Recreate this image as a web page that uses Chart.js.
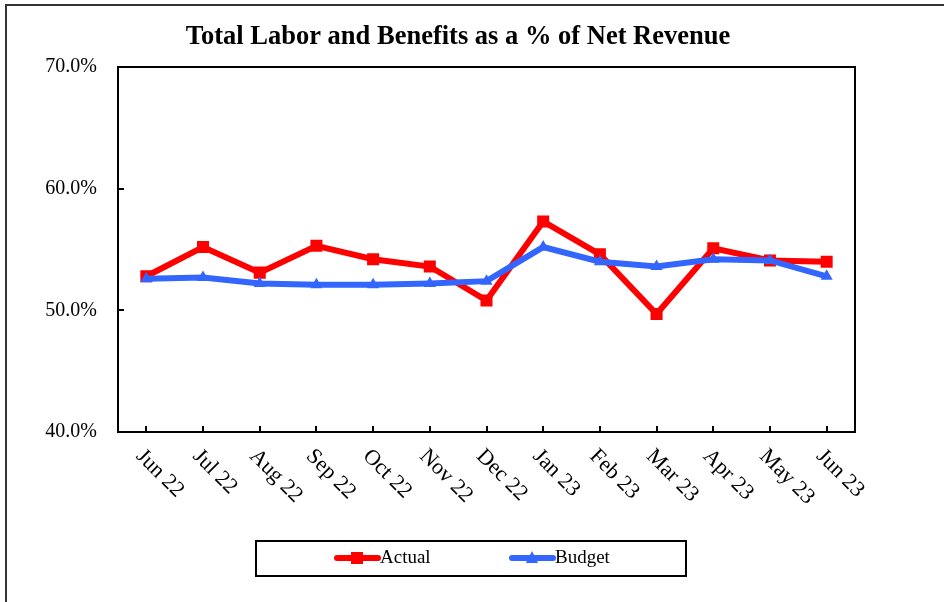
<!DOCTYPE html>
<html>
<head>
<meta charset="utf-8">
<title>Total Labor and Benefits</title>
<script src="https://cdn.jsdelivr.net/npm/chart.js@4.4.0/dist/chart.umd.min.js"></script>
<style>
  html, body { margin: 0; padding: 0; background: #fff; }
  #wrap { width: 944px; height: 602px; }
</style>
</head>
<body>
<div id="wrap"><canvas id="laborChart" width="944" height="602"></canvas></div>
<script>
// monthly labor + benefits as % of net revenue
const months = ["Jun 22", "Jul 22", "Aug 22", "Sep 22", "Oct 22", "Nov 22", "Dec 22",
                "Jan 23", "Feb 23", "Mar 23", "Apr 23", "May 23", "Jun 23"];
const actual = [52.8, 55.2, 53.1, 55.3, 54.2, 53.6, 50.8, 57.3, 54.6, 49.7, 55.1, 54.1, 54.0];
const budget = [52.6, 52.7, 52.2, 52.1, 52.1, 52.2, 52.4, 55.2, 54.0, 53.6, 54.2, 54.1, 52.8];
const yTicks = [40, 50, 60, 70];

const titleText = "Total Labor and Benefits as a % of Net Revenue";
const FONT = "'Liberation Serif', 'Times New Roman', serif";
const RED = "#ff0000";
const BLUE = "#3366ff";

// frame, plot box, inside ticks, slanted month labels, title and legend
const decorations = {
  id: "decorations",
  beforeDraw(chart) {
    const c = chart.ctx;
    c.save();
    c.fillStyle = "#fff";
    c.fillRect(0, 0, chart.width, chart.height);
    c.strokeStyle = "#333";
    c.lineWidth = 2;
    c.strokeRect(6, 5, chart.width + 20, chart.height + 20);
    c.restore();
  },
  afterDraw(chart) {
    const c = chart.ctx;
    const a = chart.chartArea;
    const x = chart.scales.x;
    const y = chart.scales.y;
    c.save();
    c.strokeStyle = "#000";
    c.lineWidth = 2;
    c.strokeRect(a.left, a.top, a.right - a.left, a.bottom - a.top);

    c.beginPath();
    yTicks.forEach(v => {
      const py = Math.round(y.getPixelForValue(v));
      c.moveTo(a.left, py);
      c.lineTo(a.left + 6, py);
    });
    months.forEach((m, i) => {
      const px = Math.round(x.getPixelForValue(i));
      c.moveTo(px, a.bottom);
      c.lineTo(px, a.bottom - 6);
    });
    c.stroke();

    c.fillStyle = "#000";
    c.font = "22px " + FONT;
    c.textAlign = "left";
    c.textBaseline = "middle";
    months.forEach((m, i) => {
      const px = x.getPixelForValue(i);
      c.save();
      c.translate(px - 7, a.bottom + 21);
      c.rotate(Math.PI / 4);
      c.fillText(m, 0, 0);
      c.restore();
    });

    c.font = "bold 26.5px " + FONT;
    c.textAlign = "center";
    c.textBaseline = "alphabetic";
    c.fillText(titleText, 458, 44);

    // legend box
    c.lineWidth = 2;
    c.strokeRect(256, 541, 430, 35);
    const items = [
      { label: "Actual", color: RED, x0: 337, style: "rect" },
      { label: "Budget", color: BLUE, x0: 512, style: "triangle" }
    ];
    items.forEach(it => {
      const ly = 558;
      c.strokeStyle = it.color;
      c.lineWidth = 6;
      c.lineCap = "round";
      c.beginPath();
      c.moveTo(it.x0, ly);
      c.lineTo(it.x0 + 41, ly);
      c.stroke();
      c.fillStyle = it.color;
      const mx = it.x0 + 20;
      if (it.style === "rect") {
        c.fillRect(mx - 6, ly - 6, 12, 12);
      } else {
        c.beginPath();
        c.moveTo(mx, ly - 7);
        c.lineTo(mx + 6, ly + 5);
        c.lineTo(mx - 6, ly + 5);
        c.closePath();
        c.fill();
      }
      c.fillStyle = "#000";
      c.font = "19px " + FONT;
      c.textAlign = "left";
      c.textBaseline = "middle";
      c.fillText(it.label, it.x0 + 43, ly);
    });
    c.restore();
  }
};

new Chart(document.getElementById("laborChart"), {
  type: "line",
  data: {
    labels: months,
    datasets: [
      {
        label: "Budget",
        data: budget,
        borderColor: BLUE,
        backgroundColor: BLUE,
        borderWidth: 6,
        pointStyle: "triangle",
        pointRadius: 7,
        pointBorderWidth: 0,
        tension: 0,
        order: 0
      },
      {
        label: "Actual",
        data: actual,
        borderColor: RED,
        backgroundColor: RED,
        borderWidth: 6,
        pointStyle: "rect",
        pointRadius: 8.5,
        pointBorderWidth: 0,
        tension: 0,
        order: 1
      }
    ]
  },
  options: {
    responsive: false,
    animation: false,
    layout: { padding: { left: 0, top: 67, right: 89, bottom: 170 } },
    plugins: {
      legend: { display: false },
      title: { display: false },
      tooltip: { enabled: false }
    },
    scales: {
      x: {
        offset: true,
        grid: { display: false, drawTicks: false },
        border: { display: false },
        ticks: { display: false },
        afterFit: s => { s.height = 0; }
      },
      y: {
        min: 40,
        max: 70,
        afterBuildTicks: s => { s.ticks = yTicks.map(v => ({ value: v })); },
        grid: { display: false, drawTicks: false },
        border: { display: false },
        ticks: {
          color: "#000",
          padding: 21,
          font: { family: FONT, size: 20 },
          callback: v => v.toFixed(1) + "%"
        },
        afterFit: s => { s.width = 118; }
      }
    }
  },
  plugins: [decorations]
});
</script>
</body>
</html>
